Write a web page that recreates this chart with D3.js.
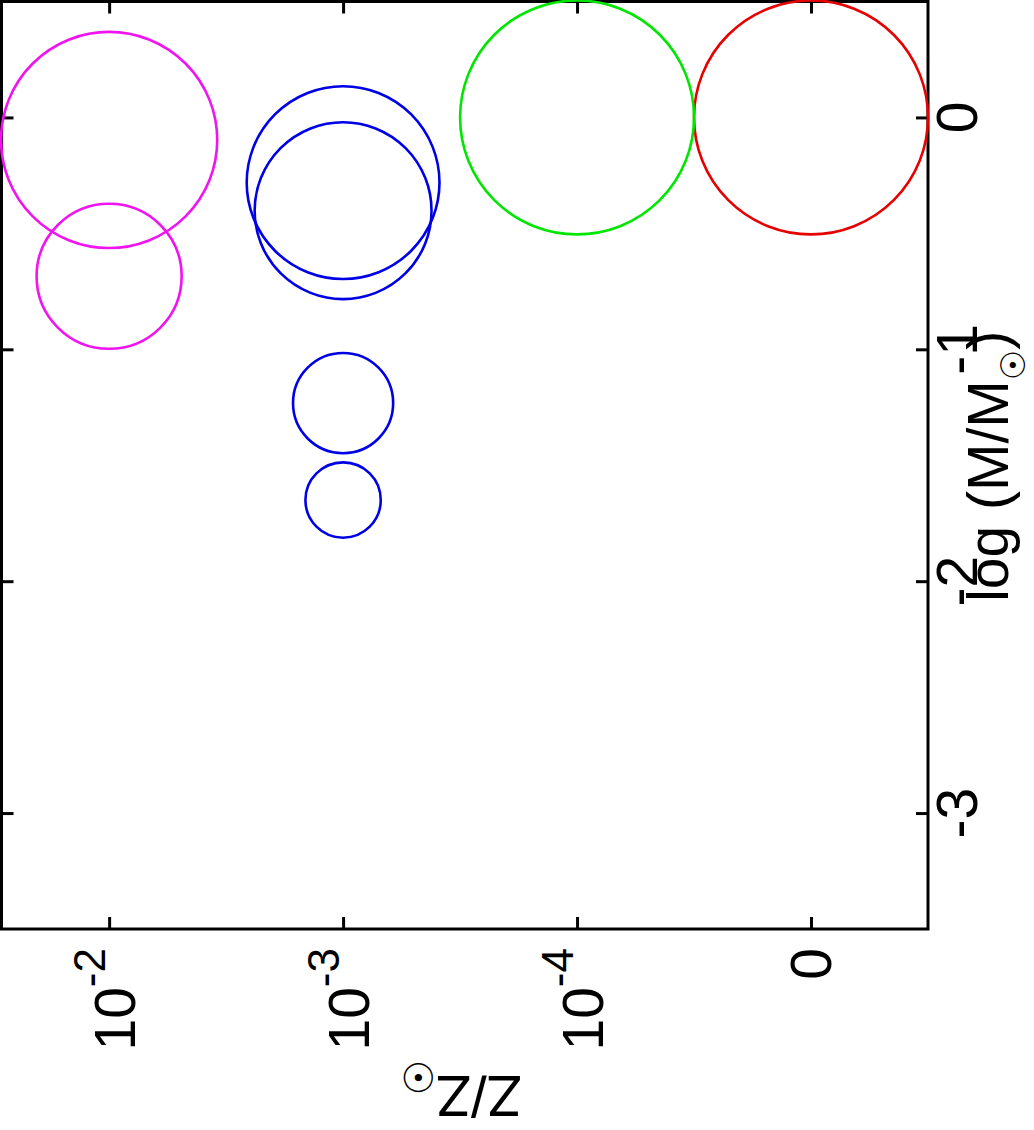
<!DOCTYPE html>
<html><head><meta charset="utf-8">
<script src="https://cdn.jsdelivr.net/npm/d3@7"></script>
<style>html,body{margin:0;padding:0;background:#fff;} svg{display:block}</style>
</head><body>
<svg id="c" width="1034" height="1130"></svg>
<script>
// ---- data ----
const zLabels = ["10^-2", "10^-3", "10^-4", "0"];           // metallicity categories (Z/Z☉)
const zColors = ["#f014f0", "#0000e6", "#00e600", "#e60000"]; // colour per category
const massTicks = [0, -1, -2, -3];                            // log (M/M☉) ticks
const circleZ      = [3, 2, 0, 0, 1, 1, 1, 1];                // category index of each circle
const circleLogM   = [0, 0, -0.097, -0.685, -0.281, -0.402, -1.232, -1.65];
const circleRadius = [0.5, 0.5, 0.462, 0.31, 0.412, 0.378, 0.214, 0.161]; // in x-axis units
const xTitle = ["Z/Z", "☉"];
const yTitle = ["log (M/M", "☉", ")"];

// ---- layout ----
const L = 1.5, R = 928, T = 1.5, B = 929;
const FONT = "'Liberation Sans', Arial, Helvetica, sans-serif";
const svg = d3.select("#c");
const x = d3.scaleLinear().domain([-0.46, 3.5]).range([L, R]);
const y = d3.scaleLinear().domain([-3.5, 0.5]).range([B, T]);
const rpx = r => x(r) - x(0);

// frame
svg.append("rect").attr("x", L).attr("y", T).attr("width", R - L).attr("height", B - T)
  .attr("fill", "none").attr("stroke", "#000").attr("stroke-width", 3);

// ticks (inward, mirrored)
const catIdx = zLabels.map((d, i) => i);
function styleAxis(g) {
  g.select(".domain").remove();
  g.selectAll(".tick line").attr("stroke", "#000").attr("stroke-width", 3);
  g.selectAll(".tick text").remove();
}
svg.append("g").attr("transform", `translate(0,${B})`)
  .call(d3.axisBottom(x).tickValues(catIdx).tickSize(-12).tickSizeOuter(0)).call(styleAxis);
svg.append("g").attr("transform", `translate(0,${T})`)
  .call(d3.axisTop(x).tickValues(catIdx).tickSize(-12).tickSizeOuter(0)).call(styleAxis);
svg.append("g").attr("transform", `translate(${L},0)`)
  .call(d3.axisLeft(y).tickValues(massTicks).tickSize(-12).tickSizeOuter(0)).call(styleAxis);
svg.append("g").attr("transform", `translate(${R},0)`)
  .call(d3.axisRight(y).tickValues(massTicks).tickSize(-12).tickSizeOuter(0)).call(styleAxis);

// circles
const circles = circleZ.map((z, i) => ({ z, m: circleLogM[i], r: circleRadius[i] }));
svg.append("g").selectAll("circle").data(circles).join("circle")
  .attr("cx", d => x(d.z)).attr("cy", d => y(d.m)).attr("r", d => rpx(d.r))
  .attr("fill", "none").attr("stroke", d => zColors[d.z]).attr("stroke-width", 2.6);

// right tick labels (rotated)
massTicks.forEach(v => {
  svg.append("text")
    .attr("transform", `translate(${R + 49},${y(v)}) rotate(-90)`)
    .attr("text-anchor", "middle").attr("font-family", FONT).attr("font-size", 57)
    .text(String(v));
});

// bottom tick labels (rotated, with exponents)
zLabels.forEach((lab, i) => {
  const [base, exp] = lab.split("^");
  const t = svg.append("text")
    .attr("transform", `translate(${x(i) + (exp ? 26 : 20)},${B + 19}) rotate(-90)`)
    .attr("text-anchor", "end").attr("font-family", FONT).attr("font-size", 57);
  t.append("tspan").text(base);
  if (exp) t.append("tspan").attr("dy", -30).attr("font-size", 44).text(exp);
});

// y title (right side, rotated -90)
{
  const t = svg.append("text")
    .attr("transform", `translate(${R + 80},${(T + B) / 2 + 1}) rotate(-90)`)
    .attr("text-anchor", "middle").attr("font-family", FONT).attr("font-size", 57);
  t.append("tspan").text(yTitle[0]);
  t.append("tspan").attr("dy", 17).attr("font-size", 34).attr("font-weight", "bold")
    .attr("font-family", "'DejaVu Sans', sans-serif").text(yTitle[1]);
  t.append("tspan").attr("dy", -17).text(yTitle[2]);
}

// x title (bottom, rotated 180)
{
  const t = svg.append("text")
    .attr("transform", `translate(461,${B + 147}) rotate(180)`)
    .attr("text-anchor", "middle").attr("font-family", FONT).attr("font-size", 57);
  t.append("tspan").text(xTitle[0]);
  t.append("tspan").attr("dy", 13).attr("font-size", 40).attr("font-weight", "bold")
    .attr("font-family", "'DejaVu Sans', sans-serif").text(xTitle[1]);
}
</script>
</body></html>
